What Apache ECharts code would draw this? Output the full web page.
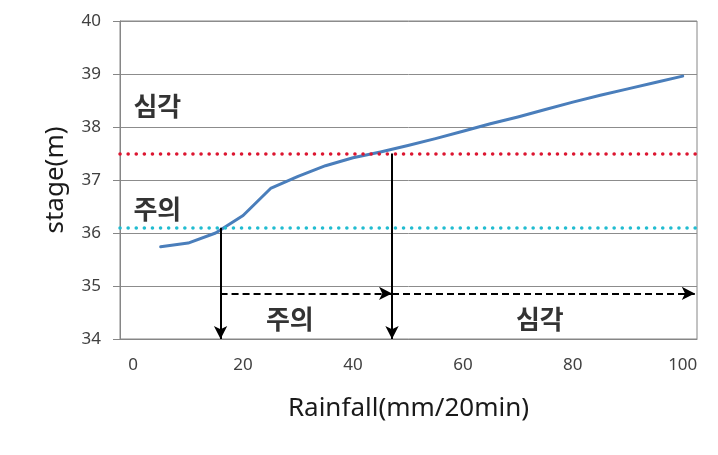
<!DOCTYPE html>
<html>
<head>
<meta charset="utf-8">
<script src="https://cdn.jsdelivr.net/npm/echarts@6/dist/echarts.min.js"></script>
<style>
html,body{margin:0;padding:0;background:#fff;}
#chart{width:718px;height:455px;}
</style>
</head>
<body>
<div id="chart"></div>
<script>
// Rainfall (mm/20min) vs stage (m)
const rainfall = [5, 10, 15, 20, 25, 30, 35, 40, 45, 50, 55, 60, 65, 70, 75, 80, 85, 90, 95, 100];
const stage = [35.74, 35.81, 36.0, 36.33, 36.84, 37.07, 37.27, 37.42, 37.53, 37.65, 37.78, 37.92, 38.06, 38.19, 38.33, 38.47, 38.6, 38.72, 38.84, 38.96];
const xTickLabels = [0, 20, 40, 60, 80, 100];
// warning levels
const levelNames = ['주의', '심각'];
const levelStages = [36.1, 37.5];
const levelRainfall = [15.9, 47.1];   // rainfall where the curve reaches each level
const rainfallEnd = 102.2;            // end of the last range arrow
const rangeArrowStage = 34.86;        // stage at which the range arrows are drawn
// text annotations: [x, y, text]
const levelLabels = [[4.4, 36.45, '주의'], [4.4, 38.4, '심각']];
const rangeLabels = [[28.5, 34.38, '주의'], [74, 34.38, '심각']];

const FONT = '"Noto Sans CJK KR", "Noto Sans", sans-serif';
const chart = echarts.init(document.getElementById('chart'), null, {renderer: 'canvas'});

const verticalArrows = levelRainfall.map((x, i) => [
  {coord: [x, levelStages[i]]}, {coord: [x, 34]}
]);
const rangeEnds = levelRainfall.slice(1).concat([rainfallEnd]);
const rangeArrows = levelRainfall.map((x, i) => [
  {coord: [x, rangeArrowStage]}, {coord: [rangeEnds[i], rangeArrowStage]}
]);

const option = {
  backgroundColor: '#fff',
  animation: false,
  grid: {left: 120, right: 21, top: 21, bottom: 116, show: true, borderColor: '#868686', borderWidth: 1, backgroundColor: 'transparent'},
  xAxis: {
    type: 'value', min: -2.4, max: 102.6,
    name: 'Rainfall(mm/20min)', nameLocation: 'middle', nameGap: 57,
    nameTextStyle: {fontFamily: '"Noto Sans", sans-serif', fontSize: 26, color: '#1a1a1a'},
    axisLine: {show: true, onZero: false, lineStyle: {color: '#868686', width: 1}},
    axisTick: {show: false},
    splitLine: {show: false},
    axisLabel: {customValues: xTickLabels, margin: 18, fontFamily: '"Noto Sans", sans-serif', fontSize: 17, color: '#404040'}
  },
  yAxis: {
    type: 'value', min: 34, max: 40, interval: 1,
    name: 'stage(m)', nameLocation: 'middle', nameGap: 51, nameRotate: 90,
    nameTextStyle: {fontFamily: '"Noto Sans", sans-serif', fontSize: 26, color: '#1a1a1a'},
    axisLine: {show: true, onZero: false, lineStyle: {color: '#868686', width: 1}},
    axisTick: {show: true, length: 7, lineStyle: {color: '#868686'}},
    splitLine: {show: true, lineStyle: {color: '#8c8c8c', width: 1}},
    axisLabel: {margin: 19, fontFamily: '"Noto Sans", sans-serif', fontSize: 17, color: '#404040'}
  },
  series: [
    {
      type: 'line', name: 'threshold',
      data: [], symbol: 'none', silent: true,
      markLine: {
        silent: true, symbol: ['none', 'none'], label: {show: false},
        data: [
          {yAxis: levelStages[1], lineStyle: {color: '#dc1530', width: 3.5, type: [0.1, 8], cap: 'round'}},
          {yAxis: levelStages[0], lineStyle: {color: '#21bcd0', width: 3.5, type: [0.1, 8], cap: 'round'}}
        ]
      }
    },
    {
      type: 'line', name: 'stage',
      data: rainfall.map((x, i) => [x, stage[i]]),
      symbol: 'none', smooth: false,
      lineStyle: {color: '#4a7ebb', width: 3, join: 'round', cap: 'round'},
      z: 3
    },
    {
      type: 'line', name: 'arrows', data: [], symbol: 'none', silent: true,
      markLine: {
        silent: true, symbol: ['none', 'arrow'], symbolSize: [10, 13],
        label: {show: false},
        lineStyle: {color: '#000', width: 2, type: 'solid'},
        data: verticalArrows
      },
      z: 4
    },
    {
      type: 'line', name: 'ranges', data: [], symbol: 'none', silent: true,
      markLine: {
        silent: true, symbol: ['none', 'arrow'], symbolSize: [10, 13],
        label: {show: false},
        lineStyle: {color: '#000', width: 2, type: [7, 4]},
        data: rangeArrows
      },
      z: 4
    },
    {
      type: 'scatter', name: 'labels', symbolSize: 0, silent: true,
      data: levelLabels.concat(rangeLabels).map(d => ({value: [d[0], d[1]], name: d[2]})),
      label: {show: true, position: 'inside', formatter: p => p.name,
        fontFamily: FONT, fontSize: 26, fontWeight: 'bold', color: '#000'},
      z: 5
    }
  ]
};
chart.setOption(option);
</script>
</body>
</html>
